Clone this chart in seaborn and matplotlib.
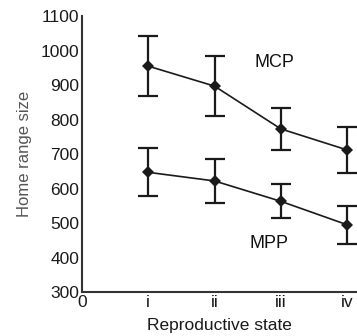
import matplotlib
matplotlib.use("Agg")
import matplotlib.pyplot as plt
import seaborn as sns
import pandas as pd

# data
x_pos = [1, 2, 3, 4]
x_labels = ["0", "i", "ii", "iii", "iv"]
mcp_mean = [955, 897, 773, 712]
mcp_err = [86, 88, 60, 67]
mpp_mean = [647, 622, 563, 495]
mpp_err = [70, 65, 49, 55]
y_ticks = [300, 400, 500, 600, 700, 800, 900, 1000, 1100]

sns.set_theme(style="white")
plt.rcParams['font.family'] = ['Liberation Sans', 'DejaVu Sans']

fig = plt.figure(figsize=(3.57, 3.36), dpi=100)
ax = fig.add_axes([0.2297, 0.131, 0.7703, 0.821])

df = pd.DataFrame({
    "x": x_pos * 2,
    "y": mcp_mean + mpp_mean,
    "series": ["MCP"] * 4 + ["MPP"] * 4,
})
sns.lineplot(data=df, x="x", y="y", units="series", estimator=None,
             color="#1a1a1a", linewidth=1.2, marker="D", markersize=6,
             markeredgewidth=0, ax=ax, legend=False)

for means, errs in [(mcp_mean, mcp_err), (mpp_mean, mpp_err)]:
    ax.errorbar(x_pos, means, yerr=errs, fmt="none", ecolor="#1a1a1a",
                elinewidth=1.6, capsize=7.5, capthick=1.6)

ax.text(2.9, 965, "MCP", fontsize=13, color="#111111", ha="center", va="center")
ax.text(2.82, 440, "MPP", fontsize=13, color="#111111", ha="center", va="center")

ax.set_xlim(0, 4.15)
ax.set_ylim(300, 1100)
ax.set_xticks([0, 1, 2, 3, 4])
ax.set_xticklabels(x_labels)
ax.set_yticks(y_ticks)
ax.tick_params(axis="both", direction="in", length=3, width=0.6, color="#999999",
               labelsize=12.5, labelcolor="#1a1a1a", pad=2)
for s in ["top", "right"]:
    ax.spines[s].set_visible(False)
for s in ["left", "bottom"]:
    ax.spines[s].set_color("#333333")
    ax.spines[s].set_linewidth(1.5)

ax.set_xlabel("Reproductive state", fontsize=12.5, color="#1a1a1a", labelpad=6)
ax.set_ylabel("Home range size", fontsize=12, color="#555555", labelpad=6)

fig.savefig("out.png", dpi=100)
